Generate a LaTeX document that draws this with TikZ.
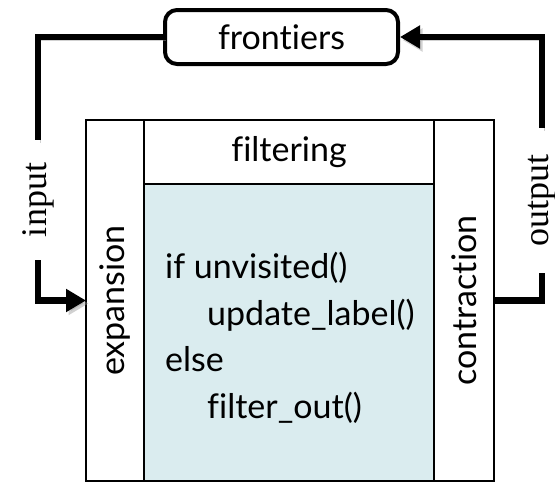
\documentclass[tikz,border=0pt]{standalone}
\usepackage{fontspec}
\setmainfont{Liberation Serif}
\newfontfamily\gillfont[Ligatures=NoCommon]{Lato}
\usepackage{tikz}
\usetikzlibrary{arrows.meta,calc,positioning}

\definecolor{codefill}{RGB}{218,236,239}

\tikzset{
  panel/.style={draw,line width=2pt,inner sep=0pt,outer sep=0pt},
  sans/.style={font=\gillfont\fontsize{34}{46.5}\selectfont},
  sidelbl/.style={font=\fontsize{36}{36}\selectfont,rotate=90,inner sep=0pt,
                  minimum height=20pt},
  flowline/.style={line width=6.5pt,line join=miter,
                   preaction={draw=black!40,opacity=.45,
                              transform canvas={shift={(2.5pt,-3pt)}}}},
  flow/.style={flowline,-{Triangle[length=20pt,width=22pt]}},
}

\begin{document}
\begin{tikzpicture}[x=1pt,y=-1pt]
  \useasboundingbox (0,0) rectangle (555,482);

  % the kernel box
  \node[panel,minimum width=58,minimum height=361] (expbox) at (115,300.5) {};
  \node[panel,minimum width=60,minimum height=361] (conbox) at (464,300.5) {};
  \node[panel,minimum width=290,minimum height=64] (filbox) at (289,152) {};
  \node[panel,fill=codefill,minimum width=290,minimum height=297] (codebox) at (289,332.5) {};

  \node[sans] at (filbox) {filtering};
  \node[sans,rotate=90] at (expbox) {expansion};
  \node[sans,rotate=90] at (conbox) {contraction};
  \node[sans,align=left,anchor=north west,inner sep=0pt] (code) at (165,252)
       {if unvisited()\\\hspace*{42pt}update\_label()\\else\\\hspace*{42pt}filter\_out()};

  % queue of frontiers
  \node[sans,draw,line width=4pt,rounded corners=12pt,minimum width=233,
        minimum height=54,fill=white] (fr) at (281.5,37) {frontiers};

  % labels on the loop
  \node[sidelbl,minimum width=120] (inlbl) at (38,200) {input};
  \node[sidelbl,minimum width=145] (outlbl) at (542,200.5) {output};

  \draw[flowline] (fr.west) -| (inlbl.east);
  \draw[flow] (inlbl.west) |- (expbox.west);
  \draw[flowline] (conbox.east) -| (outlbl.west);
  \draw[flow] (outlbl.east) |- (fr.east);
\end{tikzpicture}
\end{document}
